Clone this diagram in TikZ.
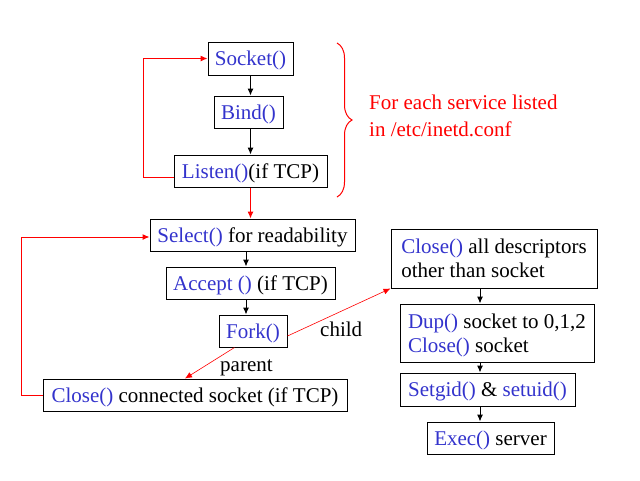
\documentclass[tikz,border=0pt]{standalone}
\usepackage{fontspec}
\setmainfont{Liberation Serif}
\usetikzlibrary{arrows.meta,decorations.pathreplacing}
\definecolor{fnblue}{RGB}{51,51,204}
\newcommand{\fn}[1]{\textcolor{fnblue}{#1}}

\tikzstyle{stepbox} = [draw,line width=1pt,inner sep=0pt,text depth=0pt,align=left,font=\fontsize{21}{24}\selectfont]
\tikzstyle{flow} = [->,>={Latex[length=7pt,width=6pt]},line width=1pt]
\tikzstyle{redflow} = [flow,red]
\tikzstyle{lbl} = [inner sep=0pt,font=\fontsize{21}{27}\selectfont]

\begin{document}
\begin{tikzpicture}[x=1pt,y=-1pt]
	\useasboundingbox (0,0) rectangle (640,480);

	\node[stepbox,minimum width=85pt,minimum height=33pt] (socket) at (250.5,58.5) {\fn{Socket()}};
	\node[stepbox,minimum width=69pt,minimum height=32pt] (bind) at (248.5,112) {\fn{Bind()}};
	\node[stepbox,minimum width=153pt,minimum height=32pt] (listen) at (250.5,171) {\fn{Listen()}(if TCP)};
	\node[stepbox,minimum width=205pt,minimum height=32pt] (select) at (252.5,235) {\fn{Select()} for readability};
	\node[stepbox,minimum width=169pt,minimum height=32pt] (accept) at (250.5,283) {\fn{Accept ()} (if TCP)};
	\node[stepbox,minimum width=68pt,minimum height=32pt] (fork) at (253,331) {\fn{Fork()}};
	\node[stepbox,minimum width=304pt,minimum height=32pt] (closeconn) at (195,395) {\fn{Close()} connected socket (if TCP)};

	\node[stepbox,minimum width=206pt,minimum height=59pt] (closeall) at (494,258.5) {\fn{Close()} all descriptors\\other than socket};
	\node[stepbox,minimum width=194pt,minimum height=58pt] (dup) at (497,333) {\fn{Dup()} socket to 0,1,2\\\fn{Close()} socket};
	\node[stepbox,minimum width=175pt,minimum height=33pt] (setid) at (487.5,389.5) {\fn{Setgid()} \& \fn{setuid()}};
	\node[stepbox,minimum width=127pt,minimum height=32pt] (exec) at (490.5,438) {\fn{Exec()} server};

	\node[lbl,red,anchor=west,align=left] (service) at (369,116) {For each service listed\\in /etc/inetd.conf};
	\node[lbl,anchor=base west] (parent) at (220,371) {parent};
	\node[lbl,anchor=base west] (child) at (320,336) {child};

	% startup loop
	\draw[flow] (socket.south) -- (socket.south |- bind.north);
	\draw[flow] (socket.south |- bind.south) -- (socket.south |- listen.north);
	\draw[redflow] ([yshift=-6pt]listen.west) -- ++(-30,0) |- (socket.west);
	\draw[redflow] (listen.south) -- (listen.south |- select.north);
	\draw[red,line width=1pt,decorate,decoration={brace,amplitude=15pt}] (337,43) -- (337,197);

	% service loop
	\draw[flow] ([xshift=-6.5pt]select.south) -- ([xshift=-6.5pt]select.south |- accept.north);
	\draw[flow] ([xshift=-4.5pt]accept.south) -- ([xshift=-4.5pt]accept.south |- fork.north);
	\draw[redflow,line width=0.6pt] ([xshift=16pt]fork.south west) -- ([xshift=-10pt]closeconn.north);
	\draw[redflow,line width=0.6pt] ([yshift=-5pt]fork.east) -- (closeall.south west);
	\draw[redflow] (closeconn.west) -- ++(-21,0) |- ([yshift=-2pt]select.west);

	% child
	\draw[flow] ([xshift=-14pt]closeall.south) -- ([xshift=-14pt]closeall.south |- dup.north);
	\draw[flow] ([xshift=-17pt]dup.south) -- ([xshift=-17pt]dup.south |- setid.north);
	\draw[flow] ([xshift=-7.5pt]setid.south) -- ([xshift=-7.5pt]setid.south |- exec.north);
\end{tikzpicture}
\end{document}
